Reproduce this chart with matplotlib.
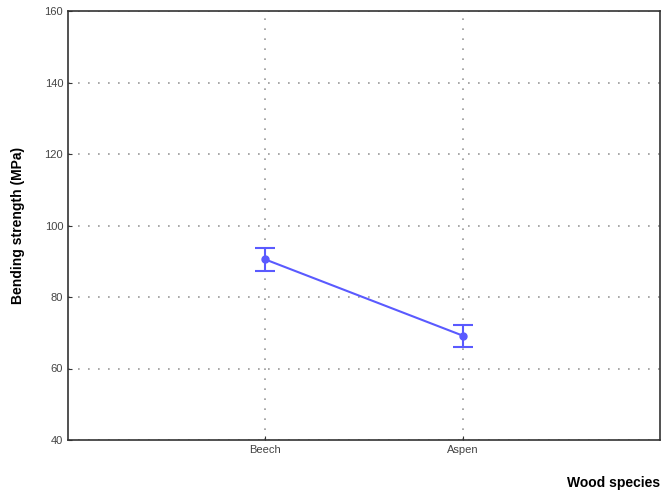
import matplotlib
matplotlib.use("Agg")
import matplotlib.pyplot as plt

species = ["Beech", "Aspen"]
means = [90.5, 69.2]
errors = [3.3, 3.1]
yticks = [40, 60, 80, 100, 120, 140, 160]

plt.rcParams['font.family'] = ['Liberation Sans', 'DejaVu Sans']

fig = plt.figure(figsize=(6.63, 4.92), dpi=100)
ax = fig.add_axes([68 / 663, 1 - 440 / 492, 592 / 663, 429 / 492])

x = [1, 2]
color = "#5a5aff"
ax.errorbar(x, means, yerr=errors, color=color, lw=1.5, capsize=7,
            capthick=1.5, elinewidth=1.5, marker="o", markersize=5,
            markerfacecolor=color, markeredgecolor=color, zorder=3)

ax.set_xlim(0, 3)
ax.set_ylim(40, 160)
ax.set_xticks(x)
ax.set_xticklabels(species, fontsize=8)
ax.set_yticks(yticks)
ax.tick_params(axis="y", labelsize=8, length=3, direction="in", colors="#333333")
ax.tick_params(axis="x", length=3, direction="in", colors="#333333")
for lbl in ax.get_yticklabels() + ax.get_xticklabels():
    lbl.set_color("#444444")

ax.grid(True, linestyle=(0, (1, 5)), color="#999999", lw=1.2)
for spine in ax.spines.values():
    spine.set_color("#333333")
    spine.set_linewidth(1.2)

ax.set_ylabel("Bending strength (MPa)", fontsize=10, fontweight="bold", labelpad=14)
fig.text(660 / 663, 1 - 483 / 492, "Wood species", ha="right", va="center",
         fontsize=10, fontweight="bold")

fig.savefig("out.png", dpi=100)
